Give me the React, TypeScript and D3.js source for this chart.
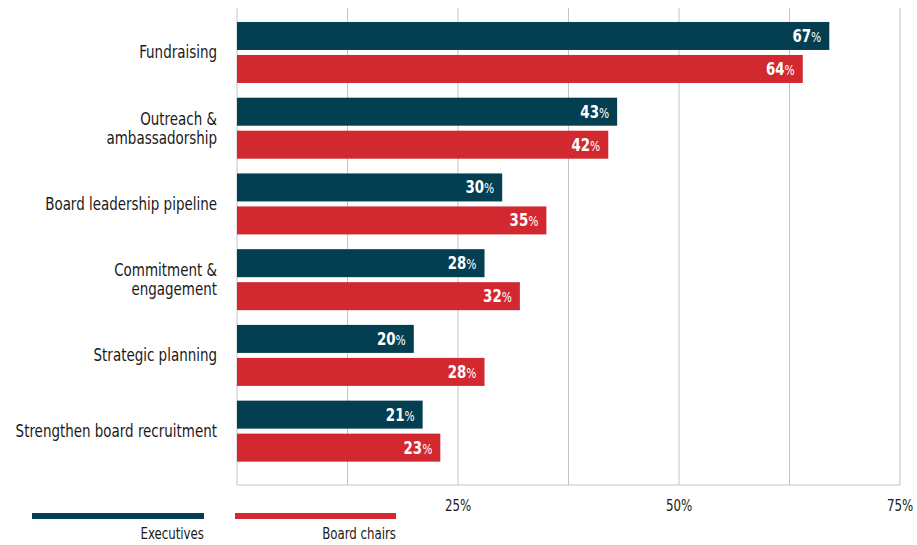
import React from "react";
import * as d3 from "d3";

const categories = [
  ["Fundraising"],
  ["Outreach &", "ambassadorship"],
  ["Board leadership pipeline"],
  ["Commitment &", "engagement"],
  ["Strategic planning"],
  ["Strengthen board recruitment"],
];
const executives = [67, 43, 30, 28, 20, 21];
const boardChairs = [64, 42, 35, 32, 28, 23];
const seriesNames = ["Executives", "Board chairs"];
const tickValues = [25, 50, 75];
const gridValues = [0, 12.5, 25, 37.5, 50, 62.5, 75];

const W = 917;
const H = 545;
const COLORS = ["#033f50", "#d2282f"];
const FONT = "'DejaVu Sans Condensed', 'DejaVu Sans', sans-serif";

function CText({ x, y, sx = 0.88, anchor = "end", size = 17, weight = "normal", fill = "#1a1a1a", children }: any) {
  return (
    <g transform={`translate(${x},${y}) scale(${sx},1)`}>
      <text x={0} y={0} textAnchor={anchor} fill={fill} fontFamily={FONT} fontSize={size} fontWeight={weight}>
        {children}
      </text>
    </g>
  );
}

export default function App() {
  const keys = categories.map((c) => c.join(" "));
  const x = d3.scaleLinear().domain([0, 75]).range([237, 900]);
  const y = d3.scaleBand<string>().domain(keys).range([14.6, 469]).padding(0);
  const barH = 28;
  const gap = 2.5;
  const top = 8;
  const bottom = 485;

  return (
    <svg width={W} height={H} style={{ position: "absolute", left: 0, top: 0, background: "#fff" }}>
      {gridValues.map((g) => (
        <line key={g} x1={x(g)} x2={x(g)} y1={top} y2={bottom} stroke="#c4c4c4" strokeWidth={1} />
      ))}
      <line x1={x(0)} x2={x(75)} y1={bottom} y2={bottom} stroke="#c4c4c4" strokeWidth={1} />
      {keys.map((k, i) => {
        const c = (y(k) as number) + y.bandwidth() / 2;
        const vals = [executives[i], boardChairs[i]];
        const lines = categories[i];
        return (
          <g key={k}>
            {vals.map((v, j) => {
              const by = j === 0 ? c - gap - barH : c + gap;
              return (
                <g key={j}>
                  <rect x={x(0)} y={by} width={x(v) - x(0)} height={barH} fill={COLORS[j]} />
                  <CText x={x(v) - 8} y={by + barH / 2 + 6} sx={0.85} size={17.5} weight="bold" fill="#fff">
                    {v}
                    <tspan fontSize={14} fontWeight="normal">%</tspan>
                  </CText>
                </g>
              );
            })}
            {lines.map((ln, li) => (
              <CText key={li} x={217} y={c + 6 + (li - (lines.length - 1) / 2) * 19} sx={0.88} size={17}>
                {ln}
              </CText>
            ))}
          </g>
        );
      })}
      {tickValues.map((t) => (
        <CText key={t} x={x(t)} y={511} anchor="middle" sx={0.82} size={16}>
          {t}%
        </CText>
      ))}
      {seriesNames.map((s, j) => {
        const x0 = j === 0 ? 32 : 235;
        const x1 = j === 0 ? 204 : 396;
        return (
          <g key={s}>
            <rect x={x0} y={513} width={x1 - x0} height={6} fill={COLORS[j]} />
            <CText x={x1} y={539} sx={0.82} size={16}>
              {s}
            </CText>
          </g>
        );
      })}
    </svg>
  );
}
